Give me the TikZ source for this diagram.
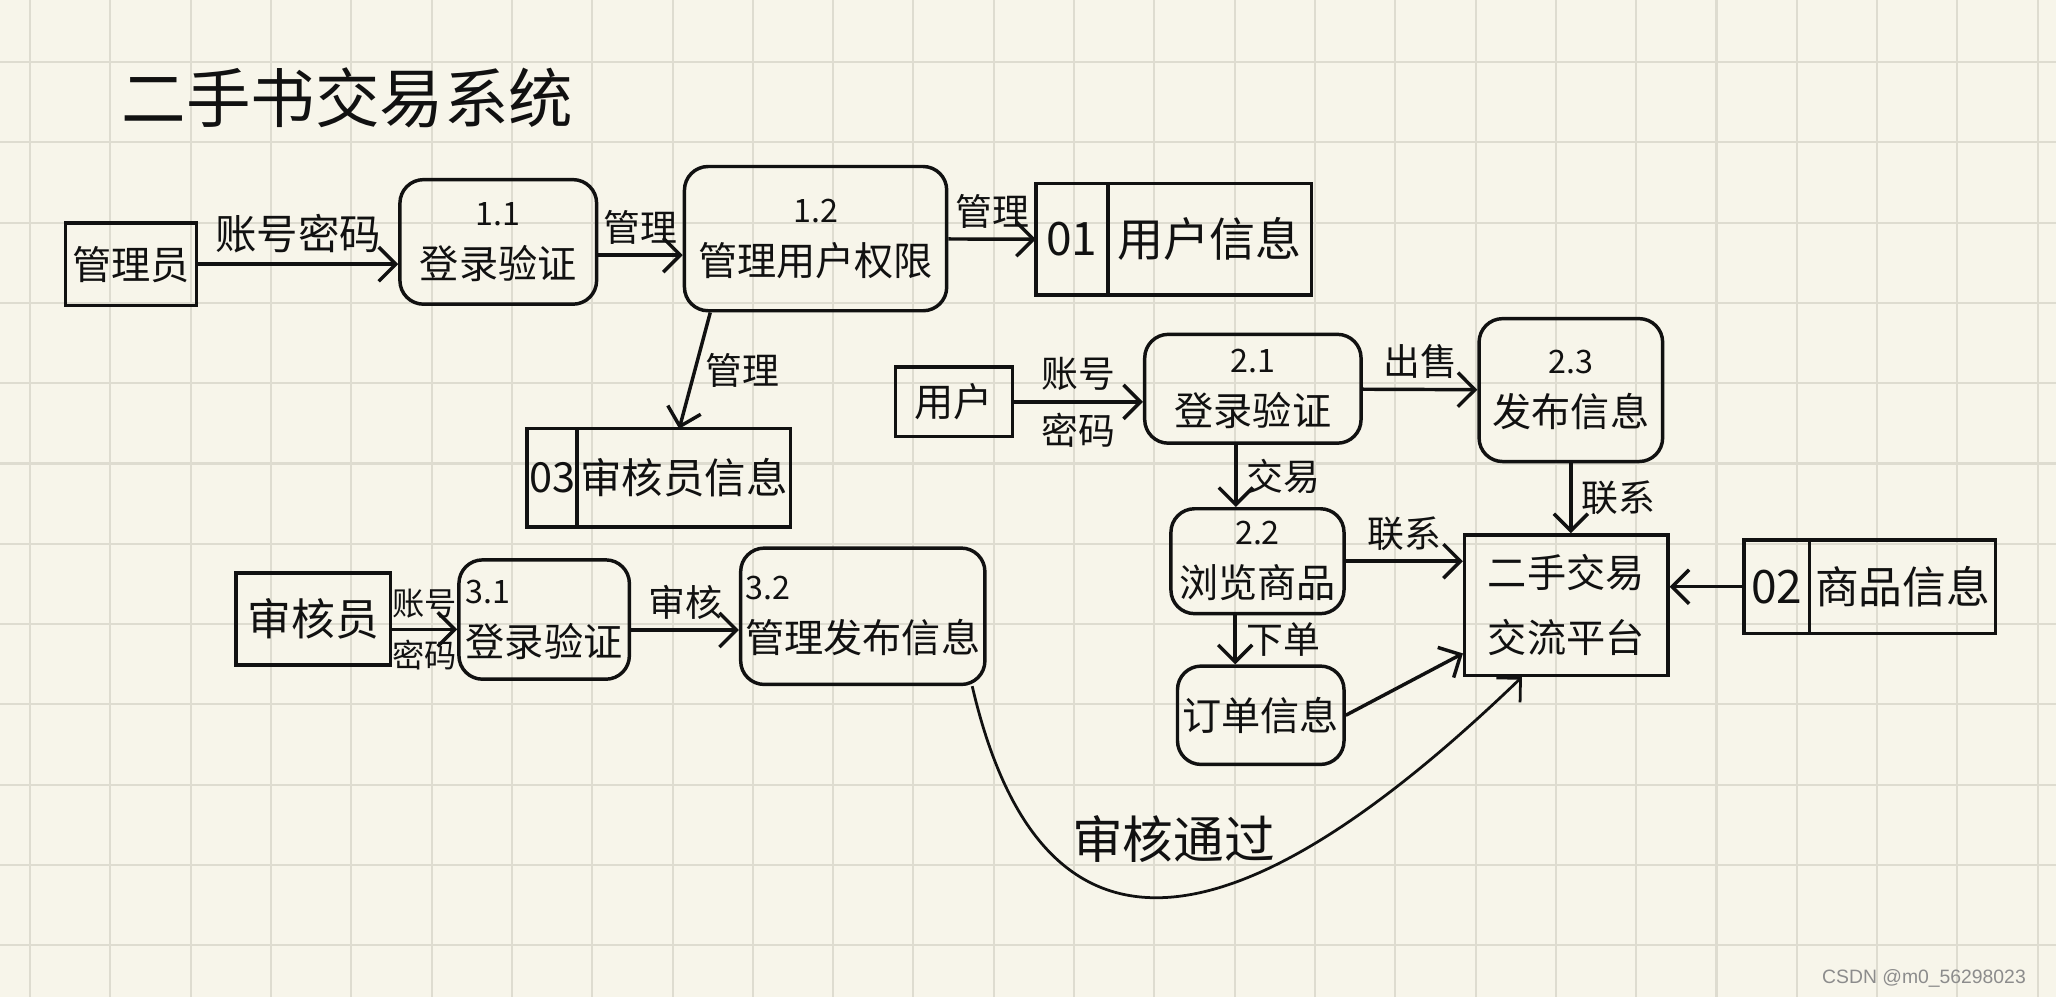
\documentclass[tikz,border=0pt]{standalone}
\usepackage{fontspec}
\setmainfont{Noto Sans CJK SC}
\newfontfamily\wmfont{Liberation Sans}
\usetikzlibrary{arrows.meta, positioning, calc}
\definecolor{paper}{RGB}{247,245,234}
\definecolor{gridline}{RGB}{222,220,208}
\definecolor{ink}{RGB}{17,17,17}
\definecolor{wmgray}{RGB}{140,140,140}
\newcommand{\procnum}[1]{{\fontsize{7}{8}\selectfont #1}}

\begin{document}
\begin{tikzpicture}[
  line width=0.75pt, color=ink,
  proc/.style={draw, rounded corners=0.18cm, align=center, inner sep=1pt, font=\fontsize{8.5}{11.5}\selectfont},
  entity/.style={draw, inner sep=1pt, font=\fontsize{8.5}{10}\selectfont},
  store/.style={draw, outer sep=0pt, inner xsep=0pt, inner ysep=1pt, font=\fontsize{10}{12}\selectfont},
  flow/.style={-{Straight Barb[length=1.3mm,width=2.6mm]}},
  lbl/.style={font=\fontsize{8}{9}\selectfont, inner sep=2pt},
]
  \useasboundingbox (0,0) rectangle (15.68,-7.60);
  % squared paper
  \fill[paper] (0,0) rectangle (15.68,-7.60);
  \foreach \k in {0,...,25}
    \draw[gridline, line width=0.45pt] ({0.23+0.6124*\k},0) -- ({0.23+0.6124*\k},-7.60);
  \foreach \k in {0,...,11}
    \draw[gridline, line width=0.45pt] (0,{-0.473-0.6124*\k}) -- (15.68,{-0.473-0.6124*\k});

  \node[font=\fontsize{14}{16}\selectfont] (title) at (2.65,-0.75) {二手书交易系统};

  % administrator branch
  \node[entity, minimum width=1.00cm, minimum height=0.63cm] (admin) at (1.00,-2.015) {管理员};
  \node[proc, minimum width=1.50cm, minimum height=0.95cm] (p11) at (3.80,-1.845) {\procnum{1.1}\\登录验证};
  \node[proc, minimum width=2.00cm, minimum height=1.10cm] (p12) at (6.22,-1.82) {\procnum{1.2}\\管理用户权限};
  \node[store, minimum width=0.55cm, minimum height=0.85cm] (s01id) at (8.175,-1.825) {01};
  \node[store, minimum width=1.55cm, minimum height=0.85cm, right=0pt of s01id] (s01) {用户信息};
  \node[store, minimum width=0.38cm, minimum height=0.75cm, font=\fontsize{9}{11}\selectfont] (s03id) at (4.21,-3.645) {03};
  \node[store, minimum width=1.63cm, minimum height=0.75cm, font=\fontsize{9}{11}\selectfont, right=0pt of s03id] (s03) {审核员信息};

  % user branch
  \node[entity, minimum width=0.89cm, minimum height=0.53cm] (user) at (7.275,-3.065) {用户};
  \node[proc, minimum width=1.65cm, minimum height=0.83cm] (p21) at (9.555,-2.965) {\procnum{2.1}\\登录验证};
  \node[proc, minimum width=1.40cm, minimum height=1.09cm] (p23) at (11.98,-2.975) {\procnum{2.3}\\发布信息};
  \node[proc, minimum width=1.32cm, minimum height=0.80cm] (p22) at (9.59,-4.28) {\procnum{2.2}\\浏览商品};
  \node[proc, minimum width=1.27cm, minimum height=0.75cm] (order) at (9.615,-5.455) {订单信息};
  \node[draw, align=center, inner sep=1pt, minimum width=1.55cm, minimum height=1.07cm, font=\fontsize{8.5}{14}\selectfont] (plat) at (11.945,-4.615) {二手交易\\交流平台};
  \node[store, minimum width=0.50cm, minimum height=0.71cm] (s02id) at (13.55,-4.475) {02};
  \node[store, minimum width=1.42cm, minimum height=0.71cm, font=\fontsize{9.5}{11}\selectfont, right=0pt of s02id] (s02) {商品信息};

  % auditor branch
  \node[entity, minimum width=1.18cm, minimum height=0.70cm, font=\fontsize{9.5}{11}\selectfont] (auditor) at (2.39,-4.72) {审核员};
  \node[proc, minimum width=1.30cm, minimum height=0.91cm, align=left] (p31) at (4.15,-4.725) {\procnum{3.1}\\登录验证};
  \node[proc, minimum width=1.84cm, minimum height=1.04cm, align=left] (p32) at (6.58,-4.70) {\procnum{3.2}\\管理发布信息};

  % flows
  \draw[flow] (admin) -- (admin -| p11.west) node[lbl, midway, above, font=\fontsize{9}{10}\selectfont] (fa) {账号密码};
  \draw[flow] ([yshift=-1mm]p11.east) -- ([yshift=-1mm]p11.east -| p12.west) node[lbl, midway, above] (fb) {管理};
  \draw[flow] (p12) -- (s01id) node[lbl, midway, above] (fc) {管理};
  \draw[flow] ([xshift=0.21cm]p12.south west) -- ([xshift=0.78cm]s03.north west) node[lbl, midway, right] (fd) {管理};
  \draw[flow] (user) -- (user -| p21.west) node[lbl, midway, above] (fe) {账号} node[lbl, midway, below] (ff) {密码};
  \draw[flow] (p21) -- (p23) node[lbl, midway, above] (fg) {出售};
  \draw[flow] ([xshift=-1.3mm]p21.south) -- ([xshift=-1.3mm]p21.south |- p22.north) node[lbl, midway, right] (fh) {交易};
  \draw[flow] (p23.south) -- (p23.south |- plat.north) node[lbl, midway, right] (fi) {联系};
  \draw[flow] (p22.east) -- (p22.east -| plat.west) node[lbl, midway, above] (fj) {联系};
  \draw[flow] (s02id.west) -- (s02id.west -| plat.east);
  \draw[flow] ([xshift=-1.7mm]p22.south) -- ([xshift=-1.7mm]p22.south |- order.north) node[lbl, midway, right] (fk) {下单};
  \draw[flow] (order.east) -- ([yshift=0.18cm]plat.south west);
  \draw[flow] ([yshift=-0.8mm]auditor.east) -- ([yshift=-0.8mm]auditor.east -| p31.west)
    node[lbl, midway, above, font=\fontsize{7}{8}\selectfont] (fl) {账号}
    node[lbl, midway, below, font=\fontsize{7}{8}\selectfont] (fm) {密码};
  \draw[flow] ([yshift=-0.8mm]p31.east) -- ([yshift=-0.8mm]p31.east -| p32.west) node[lbl, midway, above] (fn) {审核};
  \draw[flow, line width=0.6pt] ([xshift=-1.1mm]p32.south east) .. controls (8.0,-7.75) and (9.7,-7.0) .. ([xshift=0.45cm]plat.south west);
  \node[font=\fontsize{11}{12}\selectfont] (pass) at (8.95,-6.40) {审核通过};

  \node[wmgray, font=\wmfont\fontsize{4.2}{5}\selectfont, anchor=east] (mark) at (15.58,-7.46) {CSDN @m0\_56298023};
\end{tikzpicture}
\end{document}
